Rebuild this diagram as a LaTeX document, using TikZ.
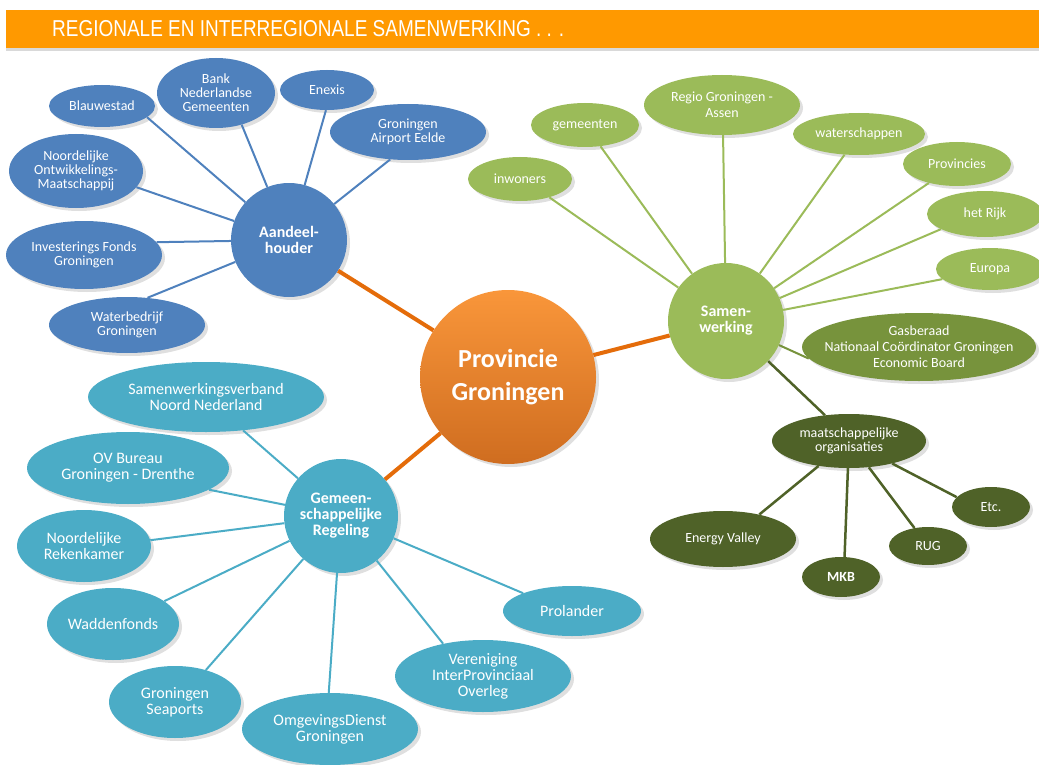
\documentclass[tikz,border=0pt]{standalone}
\usepackage{fontspec}
\setmainfont{Carlito}
\newfontfamily\titlefont[FakeStretch=0.825]{Liberation Sans}
\usetikzlibrary{shapes.geometric,shadows}

\definecolor{titleorange}{HTML}{FF9900}
\definecolor{aandblue}{HTML}{4F81BD}
\definecolor{samgreen}{HTML}{9BBB59}
\definecolor{gasgreen}{HTML}{77933C}
\definecolor{maatolive}{HTML}{4F6228}
\definecolor{gemcyan}{HTML}{4BACC6}
\definecolor{provtop}{HTML}{F9963A}
\definecolor{provbot}{HTML}{CF6D20}
\definecolor{linkorange}{HTML}{E46C0A}

\tikzset{
  sz/.style 2 args={minimum width=#1, minimum height=#2},
  bubble/.style={ellipse, inner sep=0pt, text=white, align=center,
    drop shadow={opacity=0.25, shadow xshift=3pt, shadow yshift=-3pt}},
  hub/.style={bubble, font=\bfseries\fontsize{16}{16}\selectfont},
  blueleaf/.style={bubble, fill=aandblue, font=\fontsize{14}{14}\selectfont},
  greenleaf/.style={bubble, fill=samgreen, font=\fontsize{14}{16}\selectfont},
  oliveleaf/.style={bubble, fill=maatolive, font=\fontsize{14}{14}\selectfont},
  cyanleaf/.style={bubble, fill=gemcyan, font=\fontsize{16}{16}\selectfont},
  blueline/.style={draw=aandblue, line width=2pt},
  greenline/.style={draw=samgreen, line width=2pt},
  oliveline/.style={draw=maatolive, line width=2.5pt},
  cyanline/.style={draw=gemcyan, line width=2pt},
  orangeline/.style={draw=linkorange, line width=4pt},
}

\begin{document}
\begin{tikzpicture}[x=1pt,y=-1pt]
\useasboundingbox (0,0) rectangle (1039,765);

% title bar
\path[fill=titleorange, drop shadow={opacity=0.3, shadow xshift=0pt, shadow yshift=-3pt}] (6,10) rectangle (1039,48);
\node[anchor=base west, inner sep=0pt, text=white, font=\titlefont\fontsize{23}{23}\selectfont] (title) at (52,37) {REGIONALE EN INTERREGIONALE SAMENWERKING . . .};

% centre
\node[hub, top color=provtop, bottom color=provbot, sz={176}{174}, font=\bfseries\fontsize{26}{33}\selectfont] (prov) at (508,377) {Provincie\\Groningen};

% aandeelhouder
\node[hub, fill=aandblue, sz={116}{114}] (aand) at (289,240) {Aandeel-\\houder};
\node[blueleaf, sz={106}{42}] (a1) at (102,106) {Blauwestad};
\node[blueleaf, sz={118}{70}] (a2) at (216,93) {Bank\\Nederlandse\\Gemeenten};
\node[blueleaf, sz={94}{40}] (a3) at (327,90) {Enexis};
\node[blueleaf, sz={156}{56}] (a4) at (408,132) {Groningen\\Airport Eelde};
\node[blueleaf, sz={134}{74}] (a5) at (76,171) {Noordelijke\\Ontwikkelings-\\Maatschappij};
\node[blueleaf, sz={156}{68}] (a6) at (84,255) {Investerings Fonds\\Groningen};
\node[blueleaf, sz={156}{56}] (a7) at (127,325) {Waterbedrijf\\Groningen};

% samenwerking
\node[hub, fill=samgreen, sz={116}{116}] (samen) at (726,321) {Samen-\\werking};
\node[greenleaf, sz={104}{44}] (s1) at (520,179) {inwoners};
\node[greenleaf, sz={108}{44}] (s2) at (585,125) {gemeenten};
\node[greenleaf, sz={156}{60}] (s3) at (722,105) {Regio Groningen -\\Assen};
\node[greenleaf, sz={132}{42}] (s4) at (859,134) {waterschappen};
\node[greenleaf, sz={108}{44}] (s5) at (957,164) {Provincies};
\node[greenleaf, sz={116}{46}] (s6) at (985,214) {het Rijk};
\node[greenleaf, sz={108}{42}] (s7) at (990,269) {Europa};
\node[greenleaf, fill=gasgreen, inner xsep=-20pt, sz={234}{68}] (s8) at (919,347) {Gasberaad\\Nationaal Coördinator Groningen\\Economic Board};

% maatschappelijke organisaties
\node[oliveleaf, sz={154}{54}] (maat) at (849,441) {maatschappelijke\\organisaties};
\node[oliveleaf, sz={146}{56}] (m1) at (723,539) {Energy Valley};
\node[oliveleaf, font=\bfseries\fontsize{14}{14}\selectfont, sz={78}{40}] (m2) at (841,577) {MKB};
\node[oliveleaf, sz={78}{38}] (m3) at (928,546) {RUG};
\node[oliveleaf, sz={78}{40}] (m4) at (991,507) {Etc.};

% gemeenschappelijke regeling
\node[hub, fill=gemcyan, inner xsep=-6pt, sz={114}{114}] (gem) at (341,516) {Gemeen-\\schappelijke\\Regeling};
\node[cyanleaf, sz={236}{70}] (g1) at (206,397) {Samenwerkingsverband\\Noord Nederland};
\node[cyanleaf, sz={202}{72}] (g2) at (128,468) {OV Bureau\\Groningen - Drenthe};
\node[cyanleaf, sz={134}{72}] (g3) at (84,546) {Noordelijke\\Rekenkamer};
\node[cyanleaf, sz={132}{72}] (g4) at (113,624) {Waddenfonds};
\node[cyanleaf, sz={132}{72}] (g5) at (175,702) {Groningen\\Seaports};
\node[cyanleaf, sz={176}{72}] (g6) at (330,729) {OmgevingsDienst\\Groningen};
\node[cyanleaf, sz={176}{72}] (g7) at (483,676) {Vereniging\\InterProvinciaal\\Overleg};
\node[cyanleaf, sz={138}{50}] (g8) at (572,611) {Prolander};

\path[orangeline] (aand) -- (prov);
\path[orangeline] (samen) -- (prov);
\path[orangeline] (gem) -- (prov);

\path[blueline] (aand) -- (a1.-14);
\path[blueline] (aand) -- (a2.-51);
\path[blueline] (aand) -- (a3.-93);
\path[blueline] (aand) -- (a4.-123);
\path[blueline] (aand) -- (a5.-15);
\path[blueline] (aand) -- (a6.10);
\path[blueline] (aand) -- (a7.53);

\path[greenline] (samen) -- (s1.-32);
\path[greenline] (samen) -- (s2.-54);
\path[greenline] (samen) -- (s3.-88);
\path[greenline] (samen) -- (s4.-125);
\path[greenline] (samen) -- (s5.-146);
\path[greenline] (samen) -- (s6.-161);
\path[greenline] (samen) -- (s7.-168);
\path[greenline, draw=gasgreen] (samen) -- (s8.186);
\path[oliveline] (samen) -- (maat.133);

\path[oliveline] (maat) -- (m1.34);
\path[oliveline] (maat) -- (m2.80);
\path[oliveline] (maat) -- (m3.127);
\path[oliveline] (maat) -- (m4.164);

\path[cyanline] (gem) -- (g1.-42);
\path[cyanline] (gem) -- (g2.-15);
\path[cyanline] (gem) -- (g3.5);
\path[cyanline] (gem) -- (g4.24);
\path[cyanline] (gem) -- (g5.46);
\path[cyanline] (gem) -- (g6.92);
\path[cyanline] (gem) -- (g7.141);
\path[cyanline] (gem) -- (g8.160);
\end{tikzpicture}
\end{document}
